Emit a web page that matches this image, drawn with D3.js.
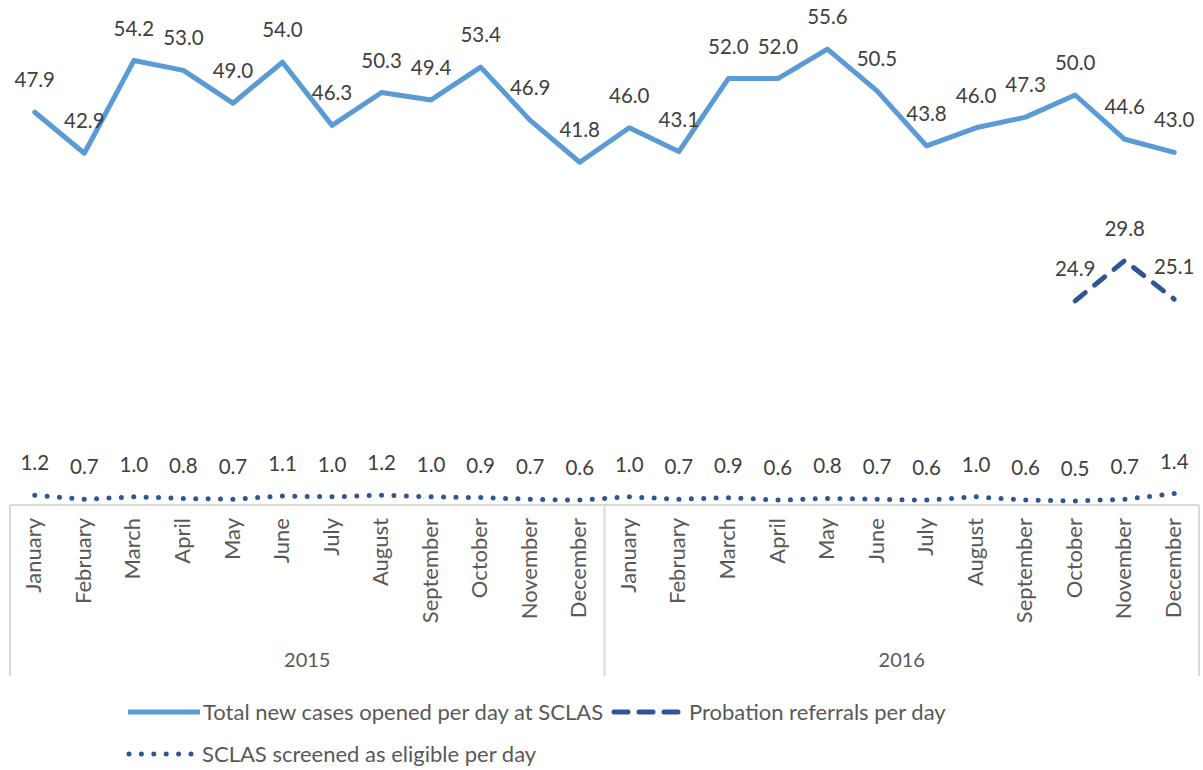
<!DOCTYPE html>
<html>
<head>
<meta charset="utf-8">
<script src="https://cdn.jsdelivr.net/npm/d3@7"></script>
<style>
  body { margin: 0; background: #fff; }
  svg text { font-family: Lato, "Open Sans", sans-serif; }
</style>
</head>
<body>
<div class="chart"></div>
<script>
// month categories, two years
const months = ['January', 'February', 'March', 'April', 'May', 'June', 'July',
  'August', 'September', 'October', 'November', 'December'];
const years = ['2015', '2016'];

// series values
const totalCases = [47.9, 42.9, 54.2, 53.0, 49.0, 54.0, 46.3, 50.3, 49.4, 53.4, 46.9, 41.8,
  46.0, 43.1, 52.0, 52.0, 55.6, 50.5, 43.8, 46.0, 47.3, 50.0, 44.6, 43.0];
const probationReferrals = [null, null, null, null, null, null, null, null, null, null, null, null,
  null, null, null, null, null, null, null, null, null, 24.9, 29.8, 25.1];
const screenedEligible = [1.2, 0.7, 1.0, 0.8, 0.7, 1.1, 1.0, 1.2, 1.0, 0.9, 0.7, 0.6,
  1.0, 0.7, 0.9, 0.6, 0.8, 0.7, 0.6, 1.0, 0.6, 0.5, 0.7, 1.4];

const seriesNames = ['Total new cases opened per day at SCLAS', 'Probation referrals per day',
  'SCLAS screened as eligible per day'];

const width = 1203, height = 770;

// one key per month so the two years stay apart
const keys = [];
years.forEach(yr => months.forEach(m => keys.push(yr + '-' + m)));

const x = d3.scaleBand()
  .domain(keys)
  .range([10, 1199]);

const y = d3.scaleLinear()
  .domain([0, 60])
  .range([505, 13]);

const cx = (d, i) => x(keys[i]) + x.bandwidth() / 2;

const svg = d3.select('.chart')
  .append('svg')
  .attr('width', width)
  .attr('height', height);

// category box (multi level axis)
const axisColor = '#d9d9d9';
svg.append('line')
  .attr('x1', x.range()[0]).attr('x2', x.range()[1])
  .attr('y1', y(0)).attr('y2', y(0))
  .attr('stroke', axisColor).attr('stroke-width', 2);

const dividers = [x(keys[0]), x(keys[12]), x.range()[1]];
svg.selectAll('.divider')
  .data(dividers)
  .enter()
  .append('line')
  .attr('class', 'divider')
  .attr('x1', d => d).attr('x2', d => d)
  .attr('y1', y(0)).attr('y2', 676)
  .attr('stroke', axisColor).attr('stroke-width', 2);

// month labels, rotated
svg.selectAll('.month')
  .data(keys)
  .enter()
  .append('text')
  .attr('class', 'month')
  .attr('transform', d => `translate(${x(d) + x.bandwidth() / 2}, 518) rotate(-90)`)
  .attr('dy', '0.3em')
  .attr('text-anchor', 'end')
  .attr('fill', '#595959')
  .style('font-size', '22px')
  .text(d => d.split('-')[1]);

// year labels
svg.selectAll('.year')
  .data(years)
  .enter()
  .append('text')
  .attr('class', 'year')
  .attr('x', (d, i) => (dividers[i] + dividers[i + 1]) / 2)
  .attr('y', 667)
  .attr('text-anchor', 'middle')
  .attr('fill', '#595959')
  .style('font-size', '20px')
  .text(d => d);

const line = d3.line()
  .defined(d => d != null)
  .x(cx)
  .y(d => y(d));

const series = [
  { values: totalCases, color: '#5b9bd5', dash: null },
  { values: probationReferrals, color: '#2f5597', dash: '13 12' },
  { values: screenedEligible, color: '#2f5597', dash: '0 12.4' }
];

series.forEach(s => {
  svg.append('path')
    .datum(s.values)
    .attr('d', line)
    .attr('fill', 'none')
    .attr('stroke', s.color)
    .attr('stroke-width', 5)
    .attr('stroke-linejoin', 'round')
    .attr('stroke-linecap', 'round')
    .attr('stroke-dasharray', s.dash);

  // data labels above points
  svg.append('g')
    .selectAll('text')
    .data(s.values.map((v, i) => ({ v, i })).filter(d => d.v != null))
    .enter()
    .append('text')
    .attr('x', d => cx(d.v, d.i))
    .attr('y', d => y(d.v) - 25)
    .attr('text-anchor', 'middle')
    .attr('fill', '#404040')
    .style('font-size', '20.5px')
    .text(d => d.v.toFixed(1));
});

// legend
const legend = [
  { x: 128, y: 712, len: 72, s: series[0], name: seriesNames[0] },
  { x: 614, y: 712, len: 66, s: series[1], name: seriesNames[1] },
  { x: 129, y: 754, len: 64, s: series[2], name: seriesNames[2] }
];

const lg = svg.append('g').selectAll('g')
  .data(legend)
  .enter()
  .append('g');

lg.append('line')
  .attr('x1', d => d.x).attr('x2', d => d.x + d.len)
  .attr('y1', d => d.y).attr('y2', d => d.y)
  .attr('stroke', d => d.s.color)
  .attr('stroke-width', 5)
  .attr('stroke-linecap', d => d.s.dash ? 'round' : 'butt')
  .attr('stroke-dasharray', d => d.s.dash === '13 12' ? '14 11' : d.s.dash);

lg.append('text')
  .attr('x', d => d.x + d.len + (d.s.dash ? 9 : 3))
  .attr('y', d => d.y)
  .attr('dy', '0.35em')
  .attr('fill', '#595959')
  .style('font-size', '22px')
  .text(d => d.name);
</script>
</body>
</html>
